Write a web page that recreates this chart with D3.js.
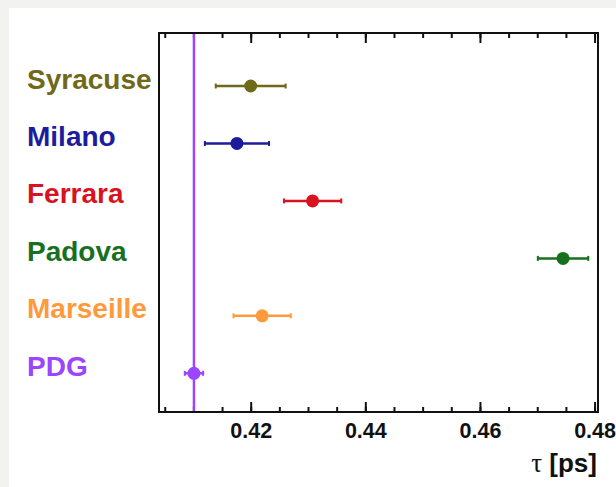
<!DOCTYPE html>
<html>
<head>
<meta charset="utf-8">
<script src="https://cdn.jsdelivr.net/npm/d3@7"></script>
<style>
  html, body { margin: 0; padding: 0; background: #f2f2f0; }
  svg { display: block; }
</style>
</head>
<body>
<div class="demo"></div>
<script>
const w = 616, h = 487;

// measurements (tau in ps)
const labs = ['Syracuse', 'Milano', 'Ferrara', 'Padova', 'Marseille', 'PDG'];
const tau = [0.4200, 0.4176, 0.4308, 0.4745, 0.4220, 0.4101];
const tauErr = [0.0061, 0.0056, 0.0050, 0.0044, 0.0050, 0.0016];
const colors = ['#6e6a1a', '#1c1c9c', '#d8121f', '#18701e', '#ff9a3c', '#9b45ff'];
const xTicks = [0.42, 0.44, 0.46, 0.48];

const frame = {left: 159, right: 598, top: 33, bottom: 412};

let xScale = d3.scaleLinear().domain([0.404, 0.4806]).range([frame.left, frame.right]);
let yScale = d3.scaleLinear().domain([0, 5]).range([86, 373.3]);

let svg = d3.select('.demo').append('svg').attr('width', w).attr('height', h);

// white canvas
svg.append('rect').attr('x', 9).attr('y', 8).attr('width', w - 9).attr('height', h - 8).attr('fill', '#fff');

// minor + major ticks bottom and top
let minor = d3.range(0.405, 0.4805, 0.005).map(d => +d.toFixed(3));
let xAxis = d3.axisBottom(xScale).tickValues(xTicks).tickSize(-10).tickFormat(d3.format('.2f'));
let xMinor = d3.axisBottom(xScale).tickValues(minor).tickSize(-5).tickFormat('');
let xTop = d3.axisTop(xScale).tickValues(xTicks).tickSize(-10).tickFormat('');
let xTopMinor = d3.axisTop(xScale).tickValues(minor).tickSize(-5).tickFormat('');

function styleAxis(g) {
  g.select('.domain').remove();
  g.selectAll('.tick line').attr('stroke', '#111').attr('stroke-width', 2);
  g.selectAll('.tick text').attr('fill', '#111')
    .attr('font-family', 'Liberation Sans, Arial, sans-serif')
    .attr('font-weight', 'bold').attr('font-size', '21.5px');
}

svg.append('g').attr('transform', 'translate(0,' + frame.bottom + ')').call(xMinor).call(styleAxis);
svg.append('g').attr('transform', 'translate(0,' + frame.bottom + ')').call(xAxis).call(styleAxis)
  .selectAll('.tick text').attr('y', 0).attr('dy', 26).attr('dominant-baseline', 'auto');
svg.append('g').attr('transform', 'translate(0,' + frame.top + ')').call(xTopMinor).call(styleAxis);
svg.append('g').attr('transform', 'translate(0,' + frame.top + ')').call(xTop).call(styleAxis);

// PDG band line
svg.append('line')
  .attr('x1', xScale(tau[5])).attr('x2', xScale(tau[5]))
  .attr('y1', frame.top).attr('y2', frame.bottom)
  .attr('stroke', colors[5]).attr('stroke-width', 2.5);

// frame
svg.append('rect')
  .attr('x', frame.left).attr('y', frame.top)
  .attr('width', frame.right - frame.left).attr('height', frame.bottom - frame.top)
  .attr('fill', 'none').attr('stroke', '#111').attr('stroke-width', 2);

// error bars
let pts = svg.selectAll('g.pt').data(labs).enter().append('g').attr('class', 'pt');
pts.append('line')
  .attr('x1', (d, i) => xScale(tau[i] - tauErr[i]))
  .attr('x2', (d, i) => xScale(tau[i] + tauErr[i]))
  .attr('y1', (d, i) => yScale(i)).attr('y2', (d, i) => yScale(i))
  .attr('stroke', (d, i) => colors[i]).attr('stroke-width', 2.5);
[-1, 1].forEach(s => {
  pts.append('line')
    .attr('x1', (d, i) => xScale(tau[i] + s * tauErr[i]))
    .attr('x2', (d, i) => xScale(tau[i] + s * tauErr[i]))
    .attr('y1', (d, i) => yScale(i) - 2.5).attr('y2', (d, i) => yScale(i) + 2.5)
    .attr('stroke', (d, i) => colors[i]).attr('stroke-width', 2);
});
pts.append('circle')
  .attr('cx', (d, i) => xScale(tau[i]))
  .attr('cy', (d, i) => yScale(i))
  .attr('r', 6.5)
  .attr('fill', (d, i) => colors[i]);

// row labels
svg.selectAll('text.lab').data(labs).enter().append('text')
  .attr('class', 'lab')
  .attr('x', 27)
  .attr('y', (d, i) => yScale(i) + 2.5)
  .attr('fill', (d, i) => colors[i])
  .attr('font-family', 'Liberation Sans, Arial, sans-serif')
  .attr('font-weight', 'bold')
  .attr('font-size', '28px')
  .text(d => d);

// axis title
let t = svg.append('text')
  .attr('x', 597).attr('y', 472)
  .attr('text-anchor', 'end')
  .attr('fill', '#111')
  .attr('font-family', 'Liberation Sans, Arial, sans-serif')
  .attr('font-weight', 'bold')
  .attr('font-size', '26px');
t.append('tspan').attr('font-family', 'Liberation Serif, serif').attr('font-weight', 'normal').attr('font-size', '27px').text('τ');
t.append('tspan').text(' [ps]');
</script>
</body>
</html>
